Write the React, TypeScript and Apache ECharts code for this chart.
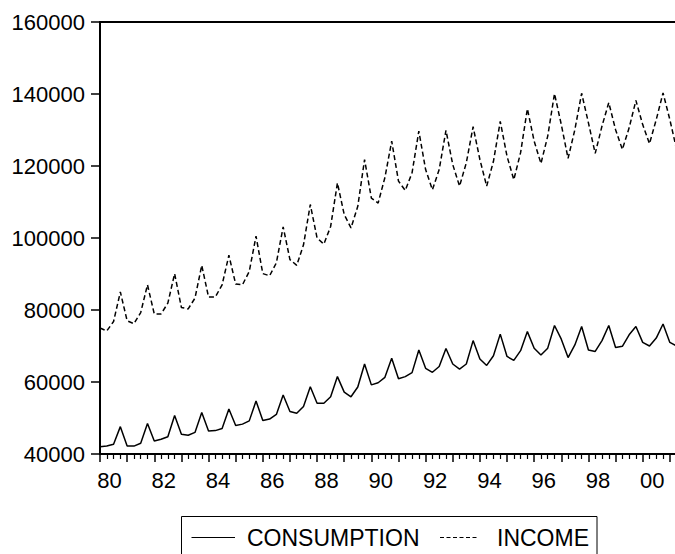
import React, { useEffect, useRef } from "react";
import * as echarts from "echarts";

const FONT = '"Liberation Sans", Arial, Helvetica, sans-serif';

// Quarterly observations starting at 1980Q1
const START_YEAR = 1980;

const consumption = [
  42000, 42200, 42700, 47600, // 1980
  42200, 42200, 43000, 48500, // 1981
  43600, 44100, 44800, 50700, // 1982
  45500, 45200, 46000, 51500, // 1983
  46400, 46500, 47100, 52500, // 1984
  47900, 48300, 49200, 54700, // 1985
  49300, 49700, 51000, 56400, // 1986
  51800, 51300, 53200, 58700, // 1987
  54100, 54100, 55900, 61500, // 1988
  57200, 55900, 58600, 65000, // 1989
  59200, 59800, 61300, 66600, // 1990
  60900, 61500, 62600, 68900, // 1991
  63800, 62700, 64300, 69300, // 1992
  65000, 63600, 65000, 71500, // 1993
  66400, 64600, 67300, 73300, // 1994
  67100, 66000, 68700, 74000, // 1995
  69400, 67500, 69400, 75700, // 1996
  71900, 66800, 70300, 75400, // 1997
  68900, 68500, 71500, 75700, // 1998
  69600, 69900, 73100, 75400, // 1999
  71000, 70000, 72200, 76100, // 2000
  71000, 70000, // 2001
];

const income = [
  75000, 74200, 76800, 85000, // 1980
  77000, 76200, 79300, 87000, // 1981
  78900, 78900, 81900, 90100, // 1982
  80700, 80300, 83300, 92400, // 1983
  83600, 83600, 87000, 95200, // 1984
  87200, 87000, 90700, 100500, // 1985
  90100, 89500, 93100, 103100, // 1986
  94000, 92400, 98100, 109300, // 1987
  100000, 98300, 103200, 115300, // 1988
  106500, 102800, 108800, 121800, // 1989
  111100, 109700, 116800, 126900, // 1990
  115800, 113200, 118100, 129700, // 1991
  119000, 113400, 119000, 129900, // 1992
  120400, 114400, 120900, 130900, // 1993
  121800, 114400, 121300, 132400, // 1994
  122700, 116200, 123700, 135900, // 1995
  126900, 120700, 128300, 140100, // 1996
  131500, 122100, 130100, 140200, // 1997
  132000, 123500, 131100, 137600, // 1998
  130100, 124600, 130600, 138200, // 1999
  131500, 126200, 132900, 140300, // 2000
  132900, 124600, // 2001
];

const seriesNames = ["CONSUMPTION", "INCOME"];
const yMin = 40000;
const yMax = 160000;
const yStep = 20000;
const xMin = 1980;
const xMax = 2001.5;

export default function App() {
  const ref = useRef<HTMLDivElement>(null);

  useEffect(() => {
    if (!ref.current) return;
    const chart = echarts.init(ref.current, undefined, { renderer: "svg" });
    const toPoint = (v: number, i: number) => [START_YEAR + i / 4, v];

    chart.setOption({
      animation: false,
      backgroundColor: "#fff",
      textStyle: { fontFamily: FONT },
      grid: {
        left: 100,
        top: 22,
        width: 583.4,
        height: 432,
        show: true,
        borderColor: "#000",
        borderWidth: 2,
        backgroundColor: "transparent",
      },
      xAxis: {
        type: "value",
        min: xMin,
        max: xMax,
        interval: 1,
        axisLine: { onZero: false, lineStyle: { color: "#000", width: 2 } },
        axisTick: { show: true, length: 8, lineStyle: { color: "#000", width: 1.5 } },
        minorTick: { show: true, splitNumber: 4, length: 5, lineStyle: { color: "#000", width: 1.2 } },
        splitLine: { show: false },
        minorSplitLine: { show: false },
        axisLabel: {
          color: "#000",
          fontSize: 22,
          fontFamily: FONT,
          margin: 15,
          padding: [0, 0, 0, 19],
          formatter: (v: number) => {
            const y = Math.round(v);
            if (Math.abs(v - y) > 1e-6 || y % 2 !== 0) return "";
            return String(y % 100).padStart(2, "0");
          },
        },
      },
      yAxis: {
        type: "value",
        min: yMin,
        max: yMax,
        interval: yStep,
        axisLine: { show: true, lineStyle: { color: "#000", width: 2 } },
        axisTick: { show: true, length: 9, lineStyle: { color: "#000", width: 1.5 } },
        splitLine: { show: false },
        axisLabel: {
          color: "#000",
          fontSize: 22,
          fontFamily: FONT,
          margin: 15,
          formatter: (v: number) => String(v),
        },
      },
      series: [
        {
          name: seriesNames[0],
          type: "line",
          symbol: "none",
          clip: true,
          data: consumption.map(toPoint),
          lineStyle: { color: "#000", width: 1.5 },
        },
        {
          name: seriesNames[1],
          type: "line",
          symbol: "none",
          clip: true,
          data: income.map(toPoint),
          lineStyle: { color: "#000", width: 1.5, type: [5, 3] },
        },
      ],
      graphic: [
        {
          type: "rect",
          shape: { x: 181.5, y: 516.5, width: 415.5, height: 60 },
          style: { fill: "#fff", stroke: "#000", lineWidth: 1 },
          z: 10,
        },
        {
          type: "line",
          shape: { x1: 191.5, y1: 537.5, x2: 235, y2: 537.5 },
          style: { stroke: "#000", lineWidth: 1.2 },
          z: 11,
        },
        {
          type: "text",
          x: 247,
          y: 538,
          style: {
            text: seriesNames[0],
            fontSize: 23,
            fontFamily: FONT,
            fill: "#000",
            verticalAlign: "middle",
            align: "left",
          },
          z: 11,
        },
        {
          type: "line",
          shape: { x1: 440, y1: 537.5, x2: 478, y2: 537.5 },
          style: { stroke: "#000", lineWidth: 1.2, lineDash: [4, 2.5] },
          z: 11,
        },
        {
          type: "text",
          x: 497,
          y: 538,
          style: {
            text: seriesNames[1],
            fontSize: 23,
            fontFamily: FONT,
            fill: "#000",
            verticalAlign: "middle",
            align: "left",
          },
          z: 11,
        },
      ],
    });

    return () => chart.dispose();
  }, []);

  return (
    <div
      style={{
        position: "fixed",
        left: 0,
        top: 0,
        width: 675,
        height: 554,
        overflow: "hidden",
        background: "#fff",
      }}
    >
      <div ref={ref} style={{ width: 700, height: 554 }} />
    </div>
  );
}
